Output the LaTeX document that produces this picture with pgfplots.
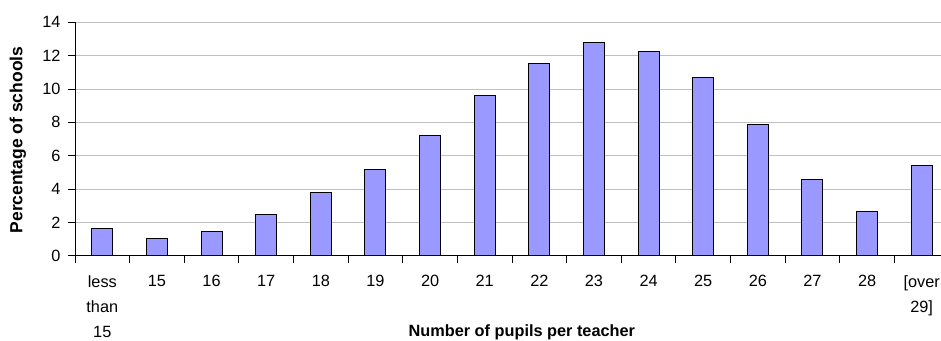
\documentclass[border=0pt]{standalone}
\usepackage{pgfplots}
\pgfplotsset{compat=1.18}
\usepackage{fontspec}
\setmainfont{Liberation Sans}
\definecolor{barblue}{HTML}{9999FF}
\definecolor{gridgray}{HTML}{C0C0C0}
\begin{document}
\begin{tikzpicture}
\useasboundingbox (0,0) rectangle (941pt,340pt);
\clip (0,0) rectangle (941pt,340pt);
\begin{axis}[
  at={(75pt,84.3pt)}, anchor=south west,
  scale only axis, width=874pt, height=233.4pt,
  xmin=-0.5, xmax=15.5, ymin=0, ymax=14,
  axis x line=bottom, axis y line=left,
  axis line style={-, line width=0.8pt, black},
  ytick={0,2,...,14},
  ymajorgrids, grid style={gridgray, line width=0.8pt},
  xtick={0,...,15},
  xticklabels={{less\\than\\15},15,16,17,18,19,20,21,22,23,24,25,26,27,28,{[over\\29]}},
  xticklabel style={align=center, font=\fontsize{16.3}{25}\selectfont, anchor=north, yshift=-9pt},
  major x tick style={draw=none},
  minor xtick={-0.5,0.5,...,15.5},
  tick align=outside,
  major tick length=7pt, minor tick length=7pt,
  tick style={black, line width=0.8pt},
  yticklabel style={font=\fontsize{16.3}{19}\selectfont, xshift=-4pt},
  /pgf/number format/assume math mode=true,
  xlabel={Number of pupils per teacher},
  ylabel={Percentage of schools},
  label style={font=\bfseries\fontsize{16.3}{19}\selectfont},
  xlabel style={at={(axis cs:7.68,0)}, anchor=base, yshift=-80.3pt},
  ylabel style={font=\bfseries\fontsize{17.5}{20}\selectfont, at={([xshift=-57pt,yshift=-1pt]axis description cs:0,0.5)}, anchor=center},
]
\addplot[ybar, bar width=21pt, fill=barblue, draw=black, line width=1pt] coordinates {
(0,1.66) (1,1.02) (2,1.48) (3,2.47) (4,3.77) (5,5.2) (6,7.22) (7,9.6)
(8,11.5) (9,12.8) (10,12.22) (11,10.68) (12,7.85) (13,4.56) (14,2.68) (15,5.4)
};
\end{axis}
\end{tikzpicture}
\end{document}
